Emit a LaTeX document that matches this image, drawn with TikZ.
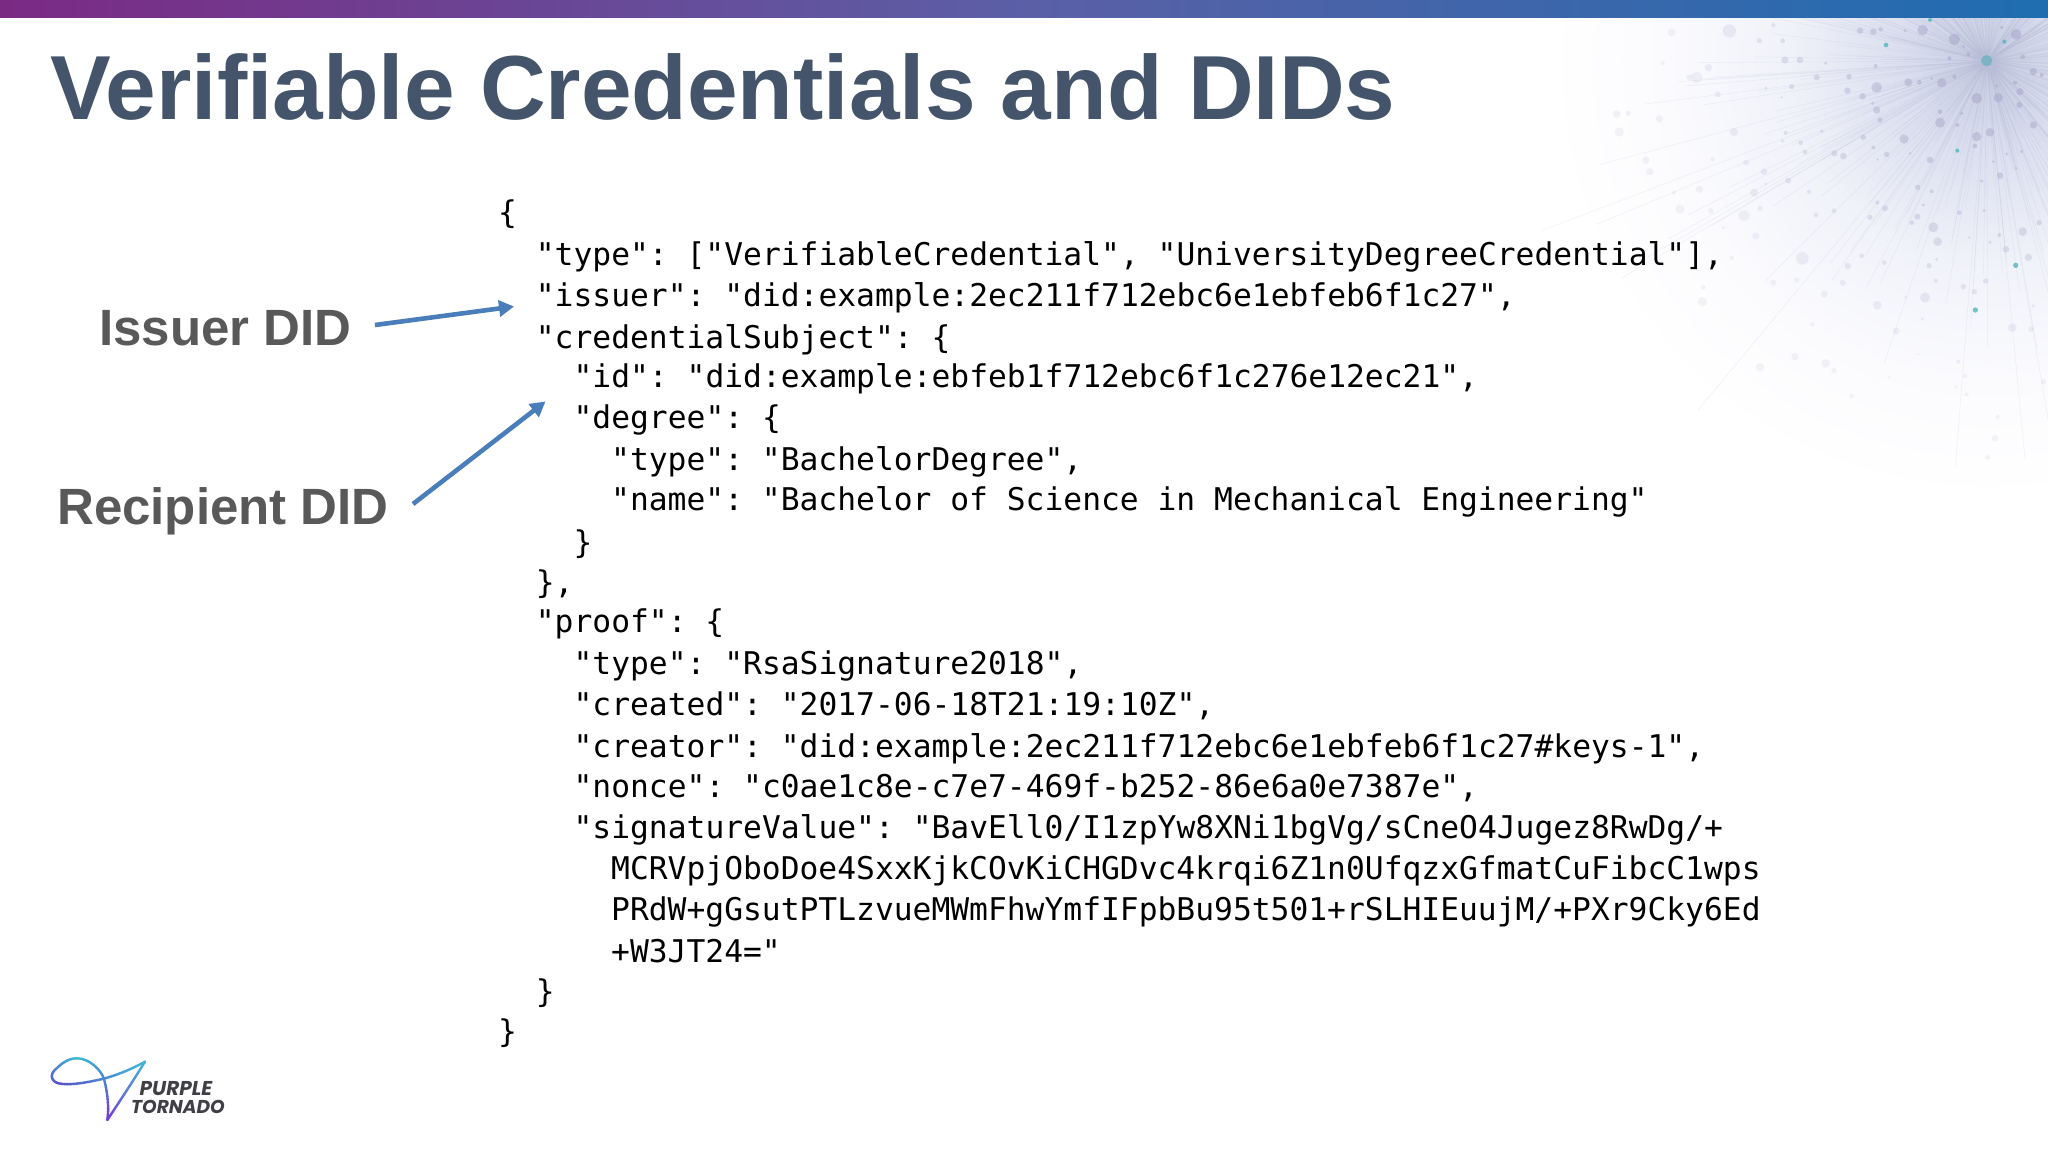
\documentclass[tikz,border=0pt]{standalone}
\usepackage{fontspec}
\setmainfont{Liberation Sans}
\newfontfamily\codefont{DejaVu Sans Mono}
\newfontfamily\logofont{Poppins}
\usetikzlibrary{arrows.meta}
\definecolor{titlecol}{HTML}{44546A}
\definecolor{labelcol}{HTML}{595959}
\definecolor{arrowcol}{HTML}{4A7EBB}
\definecolor{barA}{HTML}{7B2A84}
\definecolor{barB}{HTML}{5B5FA6}
\definecolor{barC}{HTML}{1F6DB0}
\definecolor{dotcol}{HTML}{A9A8C8}
\definecolor{tealdot}{HTML}{45B5B8}
\definecolor{raycol}{HTML}{B9BDD8}
\definecolor{logotext}{HTML}{3F3F46}
\definecolor{burstA}{HTML}{C9D0E6}
\definecolor{burstB}{HTML}{DDE1F0}
\definecolor{burstC}{HTML}{F0F2F9}
\definecolor{burstD}{HTML}{FBFBFE}
\definecolor{lgTeal}{HTML}{3FBBD6}
\definecolor{lgBlue}{HTML}{4A86D2}
\definecolor{lgViolet}{HTML}{5A4FC8}
\definecolor{lgPurple}{HTML}{7A35D6}
\pgfdeclareradialshading{burst}{\pgfpoint{0bp}{0bp}}{color(0bp)=(burstA);color(5bp)=(burstB);color(10bp)=(burstC);color(16bp)=(burstD);color(22bp)=(white);color(50bp)=(white)}
\tikzset{
  code/.style={anchor=base west,inner sep=0pt,font=\codefont\fontsize{31.3}{36}\selectfont\frenchspacing,text=black},
  titletext/.style={anchor=base west,inner sep=0pt,font=\bfseries\fontsize{91}{100}\selectfont,text=titlecol},
  didlabel/.style={anchor=base west,inner sep=0pt,font=\bfseries\fontsize{51}{56}\selectfont,text=labelcol},
  didarrow/.style={draw=arrowcol,line width=4.6pt,-{Triangle[length=15pt,width=16pt]}},
  logoline/.style={line width=2.4pt,line cap=round,line join=round},
  logolabel/.style={anchor=base west,inner sep=0pt,font=\logofont\bfseries\itshape\fontsize{18.6}{20}\selectfont,text=logotext},
  logolabelwide/.style={logolabel,font=\logofont\bfseries\itshape\fontsize{20}{20}\selectfont}
}
% gradient cubic: p0 p1 p2 p3 as x/y numbers, then a colour expression using \pct
\newcommand{\gradbez}[9]{%
  \foreach \st in {1,...,14}{%
    \pgfmathsetmacro{\ta}{(\st-1)/14}\pgfmathsetmacro{\tb}{\st/14}%
    \pgfmathsetmacro{\xa}{(1-\ta)^3*#1+3*(1-\ta)^2*\ta*#3+3*(1-\ta)*\ta^2*#5+\ta^3*#7}%
    \pgfmathsetmacro{\ya}{(1-\ta)^3*#2+3*(1-\ta)^2*\ta*#4+3*(1-\ta)*\ta^2*#6+\ta^3*#8}%
    \pgfmathsetmacro{\xb}{(1-\tb)^3*#1+3*(1-\tb)^2*\tb*#3+3*(1-\tb)*\tb^2*#5+\tb^3*#7}%
    \pgfmathsetmacro{\yb}{(1-\tb)^3*#2+3*(1-\tb)^2*\tb*#4+3*(1-\tb)*\tb^2*#6+\tb^3*#8}%
    \pgfmathsetmacro{\pct}{100*(1-\ta)}%
    \draw[logoline,color=#9] (\xa,\ya) -- (\xb,\yb);%
  }%
}
\begin{document}
\begin{tikzpicture}[x=1pt,y=-1pt]
\useasboundingbox (0,0) rectangle (2048,1152);
\fill[white] (0,0) rectangle (2048,1152);
% starburst
\begin{scope}
\clip (1500,0) rectangle (2048,520);
\shade[shading=burst] (1987,61) circle (500);
\pgfmathsetseed{4242}
\foreach \i in {1,...,520}{
  \pgfmathsetmacro{\ang}{rnd*360}
  \pgfmathsetmacro{\len}{60+rnd*rnd*440}
  \draw[raycol,line width=0.5pt,opacity=0.22] (1987,61) -- ++({\len*cos(\ang)},{\len*sin(\ang)});
}
\foreach \zx/\zy/\zr in {335/97/12,508/93/20,640/75/6,598/122/8,668/122/7,900/92/10,940/95/10,962/88/7,1035/92/5,1088/90/16,1183/118/17,1225/163/6,1168/175/6,1210/140/5,1325/82/5,1368/103/16,1388/170/7,1420/215/11,1445/225/6,675/180/11,720/180/10,797/190/5,947/198/6,308/190/6,445/203/11,410/232/17,388/232/9,770/232/9,867/230/8,695/260/8,618/264/5,862/272/10,950/262/16,908/289/10,1045/247/12,1078/247/7,1145/248/14,1183/230/6,1115/235/4,1250/295/16,1315/293/14,1380/275/11,1378/315/9,1365/248/6,1310/258/5,473/283/9,665/292/4,938/310/5,950/330/11,960/360/8,1140/368/15,1192/375/6,1140/335/7,1205/340/5,1250/410/14,1290/397/13,1420/375/11,170/342/12,205/340/8,298/357/11,178/396/14,522/396/12,677/398/6,785/394/5,910/412/8,1032/417/14,667/423/5,722/428/7,735/456/7,823/460/9,850/468/10,940/442/6,980/463/8,1050/460/4,1110/480/10,1245/438/7,1340/462/5,1385/455/5,258/480/11,458/478/7,558/488/9,270/515/11,612/515/10,685/542/9,953/478/4,1300/485/4,1320/527/10,1368/505/4,1265/543/5,342/578/6,418/568/11,582/578/12,617/552/5,747/575/6,1073/562/8,1115/574/6,360/627/14,452/633/9,552/647/17,600/625/8,768/645/7,822/632/7,952/608/6,975/625/9,930/652/8,1090/615/5,1072/650/9,1055/668/7,1198/638/7,1272/632/5,1120/682/15,1437/668/8,490/683/5,587/708/11,1133/725/13,1388/695/13,1318/705/6,1228/712/4,1290/727/5,1338/748/10,515/773/7,727/775/19,905/767/7,1130/778/5,1405/772/11,863/798/10,973/788/7,1107/797/8,640/848/9,710/840/8,848/848/9,1127/842/6,1277/843/8,430/862/7,793/882/10,1210/860/8,1243/875/8,427/905/14,1095/893/15,952/916/13,1037/892/4,1420/918/5,757/973/6,1087/957/5,1008/993/11,1357/983/13,1413/988/8,705/1070/11,1075/1062/4,600/1102/13,797/1090/13,822/1112/8,1195/1085/6,988/1132/4,1215/1128/6,1187/1160/5,875/1188/6,1220/1183/6,1450/1145/8,1313/1250/6,1305/1315/10,1283/1372/7}{
  \pgfmathsetmacro{\dd}{veclen((\zx-1280)/10,(\zy-182)/10)*10}
  \pgfmathsetmacro{\op}{max(0.14,0.62-0.55*\dd/1000)}
  \fill[dotcol,opacity=\op] ({1560+\zx/3},{\zy/3}) circle ({\zr/3});
}
\foreach \zx/\zy/\zr in {978/135/7,1110/60/6,1333/125/6,1192/452/6,1367/796/8,1246/930/8}{
  \fill[tealdot,opacity=0.75] ({1560+\zx/3},{\zy/3}) circle ({\zr/3});
}
\fill[tealdot!70!dotcol,opacity=0.7] ({1560+1280/3},{182/3}) circle ({17/3});
\end{scope}
% top bar
\shade[left color=barA,right color=barB] (0,0) rectangle (1024,17);
\shade[left color=barB,right color=barC] (1024,0) rectangle (2048,17);
% title
\node[titletext] (title) at (50,119) {Verifiable Credentials and DIDs};
% labels
\node[didlabel] (issuer) at (99,345) {Issuer DID};
\node[didlabel] (recipient) at (57,524) {Recipient DID};
% code
\node[code] (L01) at (498,223) {\{};
\node[code] (L02) at (535.7,265.5) {"type": ["VerifiableCredential", "UniversityDegreeCredential"],};
\node[code] (L03) at (535.7,306) {"issuer": "did:example:2ec211f712ebc6e1ebfeb6f1c27",};
\node[code] (L04) at (535.7,348) {"credentialSubject": \{};
\node[code] (L05) at (573.4,387) {"id": "did:example:ebfeb1f712ebc6f1c276e12ec21",};
\node[code] (L06) at (573.4,428.5) {"degree": \{};
\node[code] (L07) at (611,470) {"type": "BachelorDegree",};
\node[code] (L08) at (611,510) {"name": "Bachelor of Science in Mechanical Engineering"};
\node[code] (L09) at (573.4,553) {\}};
\node[code] (L10) at (535.7,593) {\},};
\node[code] (L11) at (535.7,632.5) {"proof": \{};
\node[code] (L12) at (573.4,674) {"type": "RsaSignature2018",};
\node[code] (L13) at (573.4,715) {"created": "2017-06-18T21:19:10Z",};
\node[code] (L14) at (573.4,757) {"creator": "did:example:2ec211f712ebc6e1ebfeb6f1c27\#keys-1",};
\node[code] (L15) at (573.4,797) {"nonce": "c0ae1c8e-c7e7-469f-b252-86e6a0e7387e",};
\node[code] (L16) at (573.4,838) {"signatureValue": "BavEll0/I1zpYw8XNi1bgVg/sCneO4Jugez8RwDg/+};
\node[code] (L17) at (611,879) {MCRVpjOboDoe4SxxKjkCOvKiCHGDvc4krqi6Z1n0UfqzxGfmatCuFibcC1wps};
\node[code] (L18) at (611,920) {PRdW+gGsutPTLzvueMWmFhwYmfIFpbBu95t501+rSLHIEuujM/+PXr9Cky6Ed};
\node[code] (L19) at (611,962) {+W3JT24="};
\node[code] (L20) at (535.7,1002) {\}};
\node[code] (L21) at (498,1042.5) {\}};
% arrows
\coordinate (issuerTail) at (375,325);
\coordinate (issuerHead) at (514,306.5);
\coordinate (recipTail) at (413,504);
\coordinate (recipHead) at (545.5,401.5);
\draw[didarrow] (issuerTail) -- (issuerHead);
\draw[didarrow] (recipTail) -- (recipHead);
% logo
\begin{scope}[shift={(0,1020)},x=0.3333pt,y=-0.3333pt]
\gradbez{435}{125}{390}{150}{350}{165}{312}{176}{lgTeal!\pct!lgBlue}
\gradbez{312}{176}{270}{185}{215}{198}{175}{190}{lgBlue!\pct!lgViolet}
\gradbez{175}{190}{150}{182}{150}{160}{170}{145}{lgViolet!\pct!lgBlue}
\gradbez{170}{145}{190}{125}{210}{115}{230}{115}{lgBlue!\pct!lgTeal}
\gradbez{230}{115}{265}{115}{300}{145}{312}{176}{lgTeal!\pct!lgBlue}
\gradbez{312}{176}{322}{215}{328}{260}{322}{300}{lgBlue!\pct!lgPurple}
\gradbez{322}{300}{345}{265}{395}{190}{435}{125}{lgPurple!\pct!lgTeal}
\end{scope}
\node[logolabelwide] (logoA) at (139.5,1095) {PURPLE};
\node[logolabel] (logoB) at (131,1113) {TORNADO};
\end{tikzpicture}
\end{document}
